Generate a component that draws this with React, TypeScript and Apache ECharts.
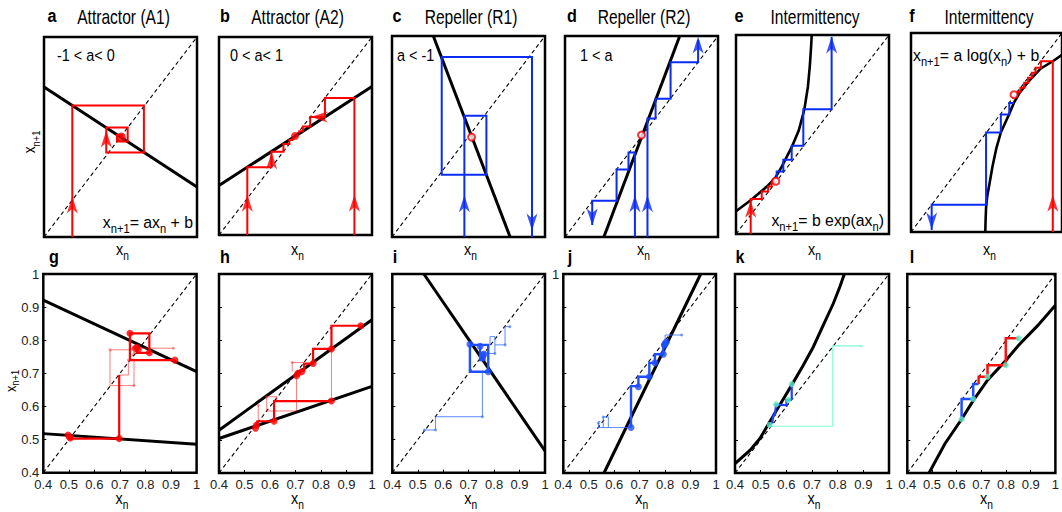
import React, { useEffect, useRef } from "react";
import * as echarts from "echarts";

const FONT = '"Liberation Sans", Arial, Helvetica, sans-serif';
const TICK_FONT = FONT;

const RED = "#ff0000";
const BLUE = "#0b2cf2";
const BBLUE = "#1f4fff";
const BBLUE_THIN = "rgba(50,110,255,0.8)";
const RED_THIN = "rgba(255,40,40,0.6)";
const CYAN = "#7fffd4";
const CYAN_DOT = "#5de8c0";

// ---------- data ----------
const DIAG_TOP = [[0, 0], [1, 1]];
const DIAG_BOT = [[0.4, 0.4], [1, 1]];

// a  Attractor (A1)
const aLine = [[0, 0.75], [1, 0.25]];
const aWeb = [[0.185, 0], [0.185, 0.657], [0.653, 0.657], [0.653, 0.423], [0.407, 0.423], [0.407, 0.547], [0.547, 0.547], [0.547, 0.477], [0.477, 0.477], [0.477, 0.51], [0.51, 0.51], [0.51, 0.495]];
const aFixed = [[0.505, 0.5]];
const aArrowsUp = [[0.185, 0.16], [0.407, 0.49]];

// b  Attractor (A2)
const bLine = [[0, 0.25], [1, 0.75]];
const bWebLeft = [[0.185, 0], [0.185, 0.3425], [0.3425, 0.3425], [0.3425, 0.421], [0.421, 0.421], [0.421, 0.46], [0.46, 0.46], [0.46, 0.48], [0.48, 0.48], [0.48, 0.49]];
const bWebRight = [[0.885, 0], [0.885, 0.6925], [0.6925, 0.6925], [0.6925, 0.596], [0.596, 0.596], [0.596, 0.548], [0.548, 0.548], [0.548, 0.524], [0.524, 0.524], [0.524, 0.512]];
const bFixed = [[0.497, 0.5]];
const bArrowsUp = [[0.185, 0.16], [0.344, 0.375], [0.885, 0.16]];
const bArrowsLeft = [[0.655, 0.596]];

// c  Repeller (R1)
const cLine = [[0.27, 1], [0.772, 0]];
const cWeb = [[0.473, 0], [0.473, 0.603], [0.617, 0.603], [0.617, 0.31], [0.325, 0.31], [0.325, 0.895], [0.915, 0.895], [0.915, 0.0]];
const cFixed = [[0.52, 0.497]];
const cArrowsUp = [[0.473, 0.165]];
const cArrowsDown = [[0.915, 0.075]];

// d  Repeller (R2)
const dLine = [[0.254, 0], [0.75, 1]];
const dWebLeft = [[0.457, 0], [0.457, 0.42], [0.415, 0.42], [0.415, 0.336], [0.337, 0.336], [0.337, 0.18], [0.178, 0.18], [0.178, 0.06]];
const dWebRight = [[0.539, 0], [0.539, 0.59], [0.592, 0.59], [0.592, 0.688], [0.69, 0.688], [0.69, 0.87], [0.87, 0.87], [0.87, 0.98]];
const dFixed = [[0.5, 0.507]];
const dArrowsUp = [[0.457, 0.165], [0.539, 0.165], [0.87, 0.955]];
const dArrowsDown = [[0.178, 0.1]];

// e  Intermittency, exp map
const eCurve = [[0, 0.114], [0.1, 0.172], [0.2, 0.237], [0.255, 0.28], [0.3, 0.34], [0.368, 0.443], [0.41, 0.52], [0.447, 0.627], [0.47, 0.74], [0.482, 0.84], [0.49, 0.93], [0.495, 1.0]];
const eBlue = [[0.266, 0.273], [0.266, 0.314], [0.309, 0.314], [0.309, 0.373], [0.364, 0.373], [0.364, 0.443], [0.44, 0.443], [0.44, 0.627], [0.625, 0.627], [0.625, 0.99]];
const eRed = [[0.096, 0], [0.096, 0.176], [0.168, 0.176], [0.168, 0.214], [0.21, 0.214], [0.21, 0.239], [0.233, 0.239], [0.233, 0.259], [0.25, 0.259], [0.25, 0.265]];
const eFixed = [[0.26, 0.265]];
const eRedUp = [[0.096, 0.125]];
const eBlueUp = [[0.625, 0.95]];

// f  Intermittency, log map
const fCurve = [[0.492, 0], [0.494, 0.06], [0.497, 0.12], [0.505, 0.18], [0.518, 0.235], [0.54, 0.33], [0.565, 0.42], [0.595, 0.5], [0.649, 0.59], [0.682, 0.65], [0.72, 0.7], [0.78, 0.758], [0.86, 0.822], [0.939, 0.858], [1.0, 0.89]];
const fBlue = [[0.682, 0.648], [0.651, 0.648], [0.651, 0.59], [0.595, 0.59], [0.595, 0.5], [0.497, 0.5], [0.497, 0.137], [0.137, 0.137], [0.137, 0.01]];
const fRed = [[0.939, 0], [0.939, 0.858], [0.86, 0.858], [0.86, 0.825], [0.825, 0.825], [0.825, 0.8], [0.8, 0.8], [0.8, 0.775], [0.775, 0.775], [0.775, 0.75], [0.75, 0.75], [0.75, 0.725], [0.725, 0.725], [0.725, 0.705], [0.705, 0.705], [0.705, 0.69]];
const fFixed = [[0.682, 0.69]];
const fBlueDown = [[0.137, 0.055]];
const fRedUp = [[0.939, 0.145]];

// g  data, attractor A1
const gUpper = [[0.4, 0.921], [1, 0.705]];
const gLower = [[0.4, 0.518], [1, 0.486]];
const gThick1 = [[0.915, 0.74], [0.739, 0.74], [0.739, 0.821], [0.815, 0.821], [0.815, 0.762], [0.766, 0.762], [0.766, 0.779]];
const gThick2 = [[0.697, 0.695], [0.697, 0.503], [0.503, 0.503], [0.497, 0.51]];
const gThin1 = [[0.909, 0.776], [0.746, 0.776], [0.746, 0.771], [0.661, 0.771], [0.661, 0.663], [0.755, 0.663], [0.755, 0.745]];
const gThin2 = [[0.697, 0.695], [0.733, 0.695], [0.733, 0.74]];
const gThin3 = [[0.748, 0.752], [0.755, 0.765], [0.762, 0.757], [0.77, 0.768], [0.778, 0.76]];
const gDots = [[0.739, 0.821], [0.815, 0.762], [0.915, 0.74], [0.766, 0.779], [0.76, 0.775], [0.772, 0.772], [0.697, 0.503], [0.497, 0.514], [0.502, 0.508], [0.506, 0.505]];
const gThinDots = [[0.909, 0.776], [0.755, 0.663], [0.661, 0.771], [0.733, 0.74]];

// h  data, attractor A2
const hUpper = [[0.4, 0.529], [1, 0.862]];
const hLower = [[0.4, 0.504], [1, 0.661]];
const hThick1 = [[0.956, 0.844], [0.841, 0.844], [0.841, 0.774], [0.769, 0.774], [0.769, 0.73], [0.734, 0.73], [0.734, 0.708], [0.72, 0.708], [0.704, 0.695]];
const hThick2 = [[0.841, 0.617], [0.616, 0.617], [0.616, 0.556], [0.55, 0.556], [0.545, 0.545], [0.542, 0.535]];
const hThin1 = [[0.841, 0.774], [0.841, 0.617]];
const hThin2 = [[0.704, 0.695], [0.704, 0.587], [0.587, 0.587], [0.587, 0.63], [0.626, 0.63], [0.626, 0.617]];
const hThin3 = [[0.687, 0.705], [0.687, 0.733], [0.734, 0.733]];
const hThin4 = [[0.554, 0.604], [0.554, 0.544]];
const hDots = [[0.956, 0.844], [0.841, 0.774], [0.769, 0.73], [0.724, 0.705], [0.704, 0.693], [0.709, 0.7], [0.841, 0.617], [0.616, 0.556], [0.547, 0.544], [0.543, 0.535]];
const hThinDots = [[0.687, 0.733], [0.554, 0.604], [0.587, 0.63]];

// i  data, repeller R1
const iLine = [[0.524, 1], [1, 0.466]];
const iThick1 = [[0.705, 0.786], [0.777, 0.786], [0.777, 0.705], [0.705, 0.705], [0.705, 0.786]];
const iThick2 = [[0.745, 0.782], [0.745, 0.74], [0.762, 0.74], [0.762, 0.76], [0.752, 0.76], [0.752, 0.748]];
const iThin1 = [[0.526, 0.529], [0.57, 0.529], [0.57, 0.569], [0.754, 0.569], [0.754, 0.705]];
const iThin2 = [[0.777, 0.76], [0.803, 0.76], [0.803, 0.786], [0.843, 0.786], [0.843, 0.841], [0.862, 0.841]];
const iThin3 = [[0.784, 0.786], [0.784, 0.811], [0.803, 0.811], [0.803, 0.786]];
const iDots = [[0.705, 0.788], [0.745, 0.782], [0.777, 0.705], [0.755, 0.752], [0.76, 0.758]];
const iThinDots = [[0.526, 0.529], [0.57, 0.529], [0.754, 0.569], [0.862, 0.841], [0.803, 0.76], [0.843, 0.786]];

// j  data, repeller R2
const jLine = [[0.56, 0.4], [0.94, 1]];
const jThick = [[0.666, 0.537], [0.666, 0.662], [0.695, 0.662], [0.695, 0.69], [0.738, 0.69], [0.738, 0.732], [0.76, 0.732], [0.76, 0.758], [0.793, 0.758], [0.793, 0.79], [0.803, 0.795]];
const jThin1 = [[0.666, 0.537], [0.538, 0.537], [0.538, 0.555], [0.545, 0.555]];
const jThin2 = [[0.557, 0.537], [0.557, 0.569], [0.577, 0.569], [0.577, 0.537]];
const jThin3 = [[0.8, 0.8], [0.8, 0.816], [0.865, 0.816]];
const jDots = [[0.666, 0.537], [0.695, 0.66], [0.738, 0.69], [0.76, 0.732], [0.793, 0.758], [0.8, 0.79], [0.805, 0.795], [0.797, 0.785]];
const jThinDots = [[0.538, 0.55], [0.557, 0.569], [0.865, 0.816]];

// k  data, exp intermittency
const kCurve = [[0.4, 0.428], [0.458, 0.468], [0.497, 0.504], [0.562, 0.589], [0.621, 0.665], [0.666, 0.725], [0.705, 0.78], [0.744, 0.846], [0.783, 0.911], [0.809, 0.962], [0.826, 1.0]];
const kCyan = [[0.536, 0.541], [0.781, 0.541], [0.781, 0.783], [0.891, 0.783]];
const kBlue = [[0.535, 0.545], [0.545, 0.553], [0.55, 0.575], [0.556, 0.575], [0.56, 0.607], [0.601, 0.604], [0.6, 0.62], [0.612, 0.62], [0.621, 0.625], [0.621, 0.668]];
const kDots = [[0.535, 0.545], [0.56, 0.607], [0.608, 0.62], [0.621, 0.668]];
const kEnd = [[0.891, 0.783]];

// l  data, log intermittency
const lCurve = [[0.488, 0.4], [0.553, 0.489], [0.62, 0.562], [0.667, 0.618], [0.725, 0.68], [0.8, 0.74], [0.851, 0.785], [0.929, 0.845], [1.0, 0.906]];
const lBlue = [[0.62, 0.562], [0.62, 0.623], [0.667, 0.623], [0.667, 0.668], [0.689, 0.668]];
const lRed = [[0.689, 0.668], [0.689, 0.69], [0.725, 0.69], [0.725, 0.725], [0.799, 0.725], [0.799, 0.806], [0.851, 0.806]];
const lDots = [[0.62, 0.562], [0.667, 0.623], [0.725, 0.69], [0.799, 0.725], [0.851, 0.806]];

const LETTERS = ["a", "b", "c", "d", "e", "f", "g", "h", "i", "j", "k", "l"];
const TITLES = ["Attractor (A1)", "Attractor (A2)", "Repeller (R1)", "Repeller (R2)", "Intermittency", "Intermittency"];
const BOTTOM_TICKS = [0.4, 0.5, 0.6, 0.7, 0.8, 0.9, 1];

// ---------- layout ----------
const LAYOUT = [
  [44, 37, 153, 200], [219, 37, 153, 198], [392, 36, 153, 201], [565, 36, 153, 201], [736, 35, 153, 199], [911, 33, 153, 199],
  [43.3, 274, 153.3, 198.7], [219, 274, 153, 199], [392.3, 274, 152.7, 198.7], [563.3, 274, 152.7, 199], [735, 274, 154, 199], [907.3, 274, 154.3, 199],
];
const TITLE_X = [123.5, 297.5, 471, 644, 815, 989];
const LETTER_X = [52, 225, 397, 572, 739, 912, 54, 225, 395, 570, 740, 912];

const ARROW = "path://M0,0 L7,18 L0,13 L-7,18 Z";

function ln(p: number, data: number[][], color: string, width: number, z = 3, dashed = false) {
  return {
    type: "line", xAxisIndex: p, yAxisIndex: p, data, symbol: "none", showSymbol: false, silent: true,
    lineStyle: { color, width, type: dashed ? [4, 3] : "solid", cap: "butt", join: "miter" }, z,
  };
}
function dots(p: number, data: number[][], color: string, size: number, open = false) {
  return {
    type: "scatter", xAxisIndex: p, yAxisIndex: p, data, symbol: "circle", symbolSize: size, silent: true,
    itemStyle: open ? { color: "#fff", borderColor: color, borderWidth: 2 } : { color }, z: 5,
  };
}
function arrows(p: number, data: number[][], color: string, rot: number) {
  return {
    type: "scatter", xAxisIndex: p, yAxisIndex: p, data, symbol: ARROW, symbolSize: [11, 17], symbolRotate: rot,
    silent: true, itemStyle: { color }, z: 6,
  };
}

function subRich(fs: number, lh: number) {
  return {
    m: { fontSize: fs, fontFamily: FONT, lineHeight: Math.round(fs * lh), verticalAlign: "middle", fill: "#000", color: "#000" },
    s: { fontSize: Math.round(fs * 0.7), fontFamily: FONT, lineHeight: Math.round(fs * 0.7), verticalAlign: "bottom", fill: "#000", color: "#000" },
  };
}
function txt(x: number, y: number, text: string, o: any = {}) {
  const fs = o.fs ?? 17;
  return {
    type: "text", x, y, scaleX: o.sx ?? 0.8, rotation: o.rot ?? 0, silent: true, z: 10,
    style: {
      text, fontSize: fs, fontFamily: FONT, fontWeight: o.bold ? "bold" : "normal", fill: "#000",
      align: o.align ?? "center", verticalAlign: "middle", rich: subRich(fs, o.lh ?? 1.5),
    },
  };
}

export default function App() {
  const ref = useRef<HTMLDivElement>(null);
  useEffect(() => {
    if (!ref.current) return;
    const chart = echarts.init(ref.current, undefined, { renderer: "svg" });

    const grid = LAYOUT.map(([left, top, width, height]) => ({
      left, top, width, height, show: true, borderColor: "#000", borderWidth: 2.5, backgroundColor: "transparent",
    }));
    const axis = (i: number, dim: "x" | "y") => {
      if (i < 6) return { type: "value", gridIndex: i, min: 0, max: 1, show: false };
      const showLab = dim === "x" || i === 6 || i === 9;
      return {
        type: "value", gridIndex: i, min: BOTTOM_TICKS[0], max: BOTTOM_TICKS[BOTTOM_TICKS.length - 1], interval: 0.1,
        axisLine: { show: false }, splitLine: { show: false },
        axisTick: { show: true, inside: true, length: 3, lineStyle: { color: "#000", width: 1 } },
        axisLabel: {
          show: showLab, margin: dim === "x" ? 5 : 4, fontSize: 13, color: "#222", fontFamily: TICK_FONT,
          formatter: (v: number) => {
            const r = Math.round(v * 10) / 10;
            if (dim === "y" && i === 9) return Math.abs(r - 1) < 1e-6 ? "1" : "";
            return r === 1 ? "1" : r.toFixed(1);
          },
        },
      };
    };
    const xAxis = LAYOUT.map((_, i) => axis(i, "x"));
    const yAxis = LAYOUT.map((_, i) => axis(i, "y"));

    const series: any[] = [];
    for (let p = 0; p < 6; p++) series.push(ln(p, DIAG_TOP, "#000", 1.1, 1, true));
    for (let p = 6; p < 12; p++) series.push(ln(p, DIAG_BOT, "#000", 1.1, 1, true));

    // a
    series.push(ln(0, aLine, "#000", 3, 2), ln(0, aWeb, RED, 2), dots(0, aFixed, RED, 9), arrows(0, aArrowsUp, RED, 0));
    // b
    series.push(ln(1, bLine, "#000", 3, 2), ln(1, bWebLeft, RED, 2), ln(1, bWebRight, RED, 2), dots(1, bFixed, RED, 8),
      arrows(1, bArrowsUp, RED, 0), arrows(1, bArrowsLeft, RED, 90));
    // c
    series.push(ln(2, cLine, "#000", 3, 2), ln(2, cWeb, BLUE, 2), dots(2, cFixed, RED, 7, true),
      arrows(2, cArrowsUp, BLUE, 0), arrows(2, cArrowsDown, BLUE, 180));
    // d
    series.push(ln(3, dLine, "#000", 3, 2), ln(3, dWebLeft, BLUE, 2), ln(3, dWebRight, BLUE, 2), dots(3, dFixed, RED, 7, true),
      arrows(3, dArrowsUp, BLUE, 0), arrows(3, dArrowsDown, BLUE, 180));
    // e
    series.push(ln(4, eCurve, "#000", 2.6, 2), ln(4, eBlue, BLUE, 2), ln(4, eRed, RED, 2), dots(4, eFixed, RED, 7, true),
      arrows(4, eRedUp, RED, 0), arrows(4, eBlueUp, BLUE, 0));
    // f
    series.push(ln(5, fCurve, "#000", 2.6, 2), ln(5, fBlue, BLUE, 2), ln(5, fRed, RED, 2), dots(5, fFixed, RED, 7, true),
      arrows(5, fBlueDown, BLUE, 180), arrows(5, fRedUp, RED, 0));
    // g
    series.push(ln(6, gUpper, "#000", 3, 2), ln(6, gLower, "#000", 3, 2),
      ln(6, gThin1, RED_THIN, 1), ln(6, gThin2, RED_THIN, 1), ln(6, gThin3, RED_THIN, 1),
      ln(6, gThick1, RED, 2.2), ln(6, gThick2, RED, 2.2), dots(6, gDots, RED, 7), dots(6, gThinDots, RED_THIN, 3));
    // h
    series.push(ln(7, hUpper, "#000", 3, 2), ln(7, hLower, "#000", 3, 2),
      ln(7, hThin1, RED_THIN, 1), ln(7, hThin2, RED_THIN, 1), ln(7, hThin3, RED_THIN, 1), ln(7, hThin4, RED_THIN, 1),
      ln(7, hThick1, RED, 2.2), ln(7, hThick2, RED, 2.2), dots(7, hDots, RED, 7), dots(7, hThinDots, RED_THIN, 3));
    // i
    series.push(ln(8, iLine, "#000", 3, 2),
      ln(8, iThin1, BBLUE_THIN, 1), ln(8, iThin2, BBLUE_THIN, 1), ln(8, iThin3, BBLUE_THIN, 1),
      ln(8, iThick1, BBLUE, 2.4), ln(8, iThick2, BBLUE, 2.4), dots(8, iDots, BBLUE, 7), dots(8, iThinDots, BBLUE_THIN, 3));
    // j
    series.push(ln(9, jLine, "#000", 3, 2),
      ln(9, jThin1, BBLUE_THIN, 1), ln(9, jThin2, BBLUE_THIN, 1), ln(9, jThin3, BBLUE_THIN, 1),
      ln(9, jThick, BBLUE, 2.4), dots(9, jDots, BBLUE, 7), dots(9, jThinDots, BBLUE_THIN, 3));
    // k
    series.push(ln(10, kCurve, "#000", 3, 2), ln(10, kCyan, CYAN, 1.2), ln(10, kBlue, "#2040ff", 2.2),
      dots(10, kDots, CYAN_DOT, 6), dots(10, kEnd, CYAN, 3));
    // l
    series.push(ln(11, lCurve, "#000", 3, 2), ln(11, lBlue, "#1f4fff", 2.5), ln(11, lRed, "#ff1010", 2.5), dots(11, lDots, CYAN_DOT, 6));

    const graphic: any[] = [];
    TITLES.forEach((t, i) => graphic.push(txt(TITLE_X[i], 17, t, { fs: 20, sx: 0.78 })));
    LETTERS.forEach((t, i) => graphic.push(txt(LETTER_X[i], i < 6 ? 16 : 257, t, { fs: 19, sx: 0.85, bold: true })));
    LAYOUT.forEach(([l, t, w, h], i) => {
      const y = i < 6 ? 249 : 498;
      graphic.push(txt(l + w / 2 + 2, y, "{m|x}{s|n}", { fs: 17, sx: 0.85 }));
    });
    graphic.push(txt(30, 142, "{m|x}{s|n+1}", { fs: 16, sx: 0.85, rot: Math.PI / 2 }));
    graphic.push(txt(11, 381, "{m|x}{s|n+1}", { fs: 15, sx: 0.85, lh: 1.27, rot: Math.PI / 2 }));
    graphic.push(txt(57, 55, "{m|-1 < a< 0}", { fs: 17, sx: 0.85, align: "left" }));
    graphic.push(txt(230, 55, "{m|0 < a< 1}", { fs: 17, sx: 0.85, align: "left" }));
    graphic.push(txt(397, 55, "{m|a < -1}", { fs: 17, sx: 0.85, align: "left" }));
    graphic.push(txt(580, 55, "{m|1 < a}", { fs: 17, sx: 0.85, align: "left" }));
    graphic.push(txt(193, 222, "{m|x}{s|n+1}{m|= ax}{s|n}{m| + b}", { fs: 17, sx: 0.93, align: "right" }));
    graphic.push(txt(884, 220, "{m|x}{s|n+1}{m|= b exp(ax}{s|n}{m|)}", { fs: 17, sx: 0.93, align: "right" }));
    graphic.push(txt(913, 55, "{m|x}{s|n+1}{m|= a log(x}{s|n}{m|) + b}", { fs: 17, sx: 0.93, align: "left" }));

    chart.setOption({ animation: false, backgroundColor: "#fff", grid, xAxis, yAxis, series, graphic });
    return () => chart.dispose();
  }, []);
  return <div ref={ref} style={{ position: "fixed", left: 0, top: 0, width: 1062, height: 512 }} />;
}
